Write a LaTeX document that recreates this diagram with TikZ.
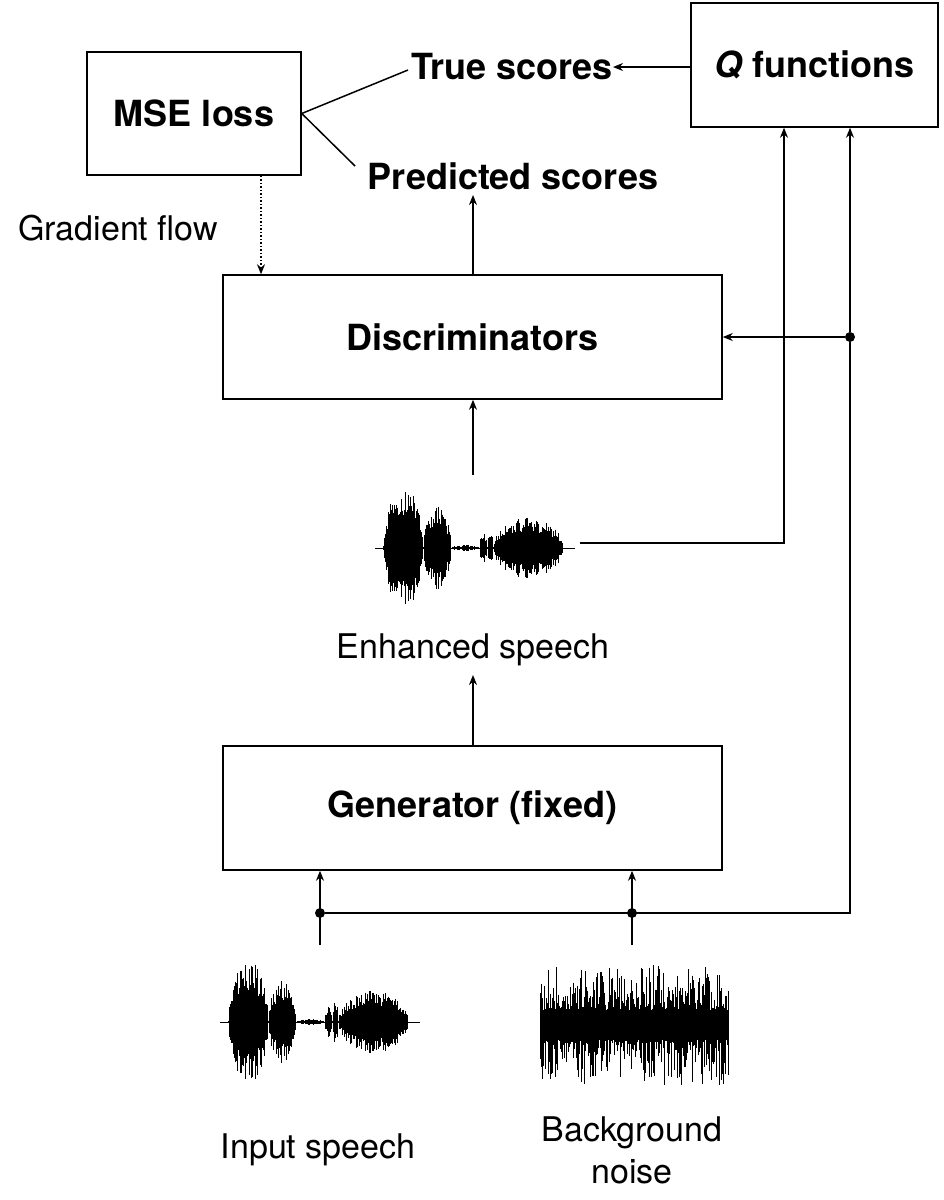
\documentclass[tikz,border=0pt]{standalone}
\usepackage{fontspec}
\setmainfont{TeX Gyre Heros}
\usetikzlibrary{arrows.meta}
\begin{document}
\begin{tikzpicture}[x=1pt,y=-1pt,
 box/.style={draw,line width=1.5pt,inner sep=0pt},
 lbl/.style={font=\fontsize{36}{41}\selectfont\bfseries},
 txt/.style={font=\fontsize{34}{39}\selectfont},
 arr/.style={-{Stealth[length=10pt,width=8pt]},line width=1.5pt},
 ln/.style={line width=1.5pt},
 dot/.style={circle,fill,inner sep=0pt,minimum size=10pt}]
\useasboundingbox (0,0) rectangle (943,1200);
\pgfmathsetseed{7}
% boxes
\node[box,minimum width=214pt,minimum height=123pt,lbl] (mse) at (194,113.5) {MSE loss};
\node[box,minimum width=247pt,minimum height=124pt,lbl] (q) at (814.5,65) {\textit{Q} functions};
\node[box,minimum width=499pt,minimum height=124pt,lbl] (disc) at (472.5,337) {Discriminators};
\node[box,minimum width=499pt,minimum height=124pt,lbl] (gen) at (472.5,808) {Generator (fixed)};
% texts
\node[lbl,anchor=east,inner sep=0pt] (ts) at (613,67) {True scores};
\node[lbl,inner sep=0pt] (ps) at (513,176) {Predicted scores};
\node[txt,inner sep=0pt] (gf) at (118,228) {Gradient flow};
\node[txt,inner sep=0pt] (es) at (473,650) {Enhanced speech};
\node[txt,inner sep=0pt] (is) at (318,1150) {Input speech};
\node[txt,align=center,inner sep=0pt,font=\fontsize{34}{42}\selectfont] (bn) at (632,1150) {Background\\noise};
% waveforms
\newcommand{\myspeech}[2]{% x0, y0
 \foreach \s/\e/\a in {0/40/62,40/68/42,68/96/3,96/104/16,104/110/22,110/180/32}{
  \pgfmathsetmacro{\ee}{\e-0.5}
  \pgfmathsetmacro{\sn}{\s+1}
  \foreach \xx in {\s,\sn,...,\ee}{
   \pgfmathsetmacro{\sv}{max(0.001,sin(180*(\xx-\s)/(\e-\s)))}
   \pgfmathsetmacro{\env}{\a*(\sv)^0.5*(0.5+0.5*rnd)}
   \draw[line width=1pt] (#1+\xx,#2-\env) -- (#1+\xx,#2+\env);
  }}
 \draw[line width=1pt] (#1-8,#2) -- (#1+192,#2);}
\myspeech{383}{548}
\myspeech{228}{1022}
\foreach \xx in {540,541,...,728}{
 \pgfmathsetmacro{\aa}{15+45*rnd^1.5}\pgfmathsetmacro{\bb}{15+45*rnd^1.5}
 \draw[line width=1pt] (\xx,1025-\aa) -- (\xx,1025+\bb);}
\coordinate (ew) at (580,543);
\coordinate (gx) at (261,0);
\coordinate (wx) at (473,475);
\coordinate (k1) at (784,543);
\coordinate (k2) at (850,913);
\coordinate (pst) at (473,195);
\coordinate (est) at (473,675);
\coordinate (m1) at (408,70);
\coordinate (m2) at (355,166);
% connectors
\draw[arr] (q.west |- ts) -- (ts.east);
\draw[ln] (mse.east) -- (m1);
\draw[ln] (mse.east) -- (m2);
\draw[arr,dotted] (gx |- mse.south) -- (gx |- disc.north);
\draw[arr] (disc.north -| pst) -- (pst);
\draw[arr] (wx) -- (disc.south -| wx);
\draw[arr] (ew) -- (k1) -- (k1 |- q.south);
\draw[arr] (gen.north -| est) -- (est);
\coordinate (c1) at (320,945);
\coordinate (c2) at (632,945);
\node[dot] (d1) at (320,913) {};
\node[dot] (d2) at (632,913) {};
\node[dot] (d3) at (850,337) {};
\draw[arr] (c1) -- (c1 |- gen.south);
\draw[arr] (c2) -- (c2 |- gen.south);
\draw[ln] (d1) -- (k2) -- (d3);
\draw[arr] (d3) -- (d3 |- q.south);
\draw[arr] (d3) -- (disc.east);
\end{tikzpicture}
\end{document}
